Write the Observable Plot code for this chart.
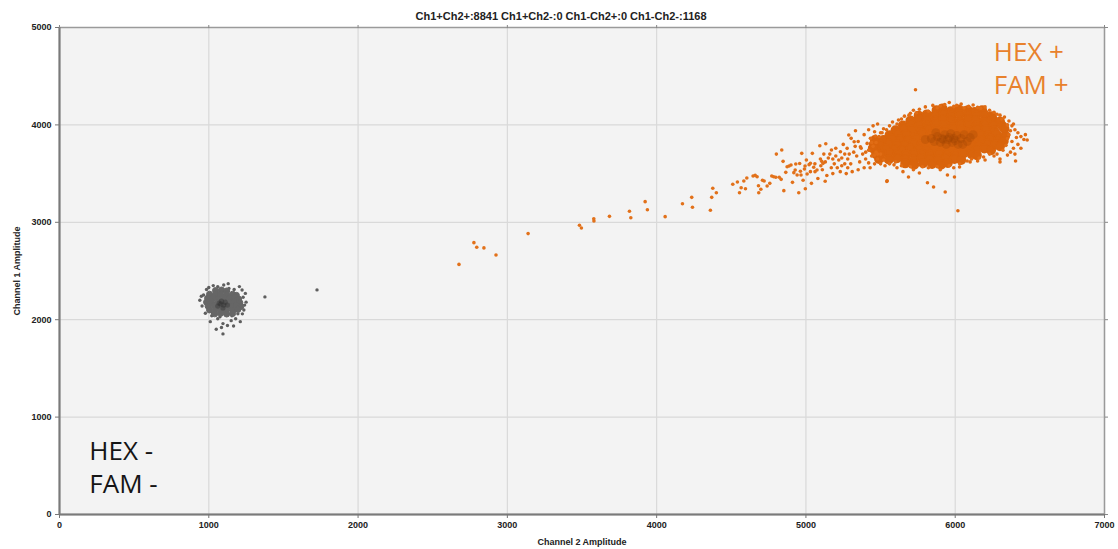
<!DOCTYPE html>
<html><head><meta charset="utf-8">
<script src="https://cdn.jsdelivr.net/npm/d3@7"></script>
<script src="https://cdn.jsdelivr.net/npm/@observablehq/plot@0.6"></script>
<style>body{margin:0;background:#fff} #chart svg{display:block}</style>
</head><body><div id="chart"></div>
<script>
const xTicks = [0,1000,2000,3000,4000,5000,6000,7000];
const yTicks = [0,1000,2000,3000,4000,5000];
const clusterNames = ["Ch1+Ch2+","Ch1+Ch2-","Ch1-Ch2+","Ch1-Ch2-"];
const clusterCounts = [8841,0,0,1168];

// Negative (HEX- FAM-) droplets, [Channel 2, Channel 1]
const negHalo = [[940,2200],[955,2140],[965,2254],[977,2066],[1000,2330],[1020,2040],[1030,2350],[1060,2340],[1100,2357],[1135,2320],[1170,2310],[1223,2305],[1230,2230],[1240,2150],[1235,2100],[1225,2060],[1211,1980],[1180,2010],[1150,1990],[1166,1936],[1095,1960],[1060,2010],[1050,1902],[1010,1980],[1085,1920],[1095,1854],[1250,2180],[1205,2340],[1130,2370],[950,2240],[985,2310],[1195,2060],[1155,2040],[1075,2030],[1025,2070],[1245,2270],[1125,1940],[1376,2234],[1725,2306]];
const negCore = [[1045,2300],[1085,2305],[1120,2295],[1005,2262],[1045,2258],[1080,2265],[1120,2255],[1160,2262],[1185,2250],[992,2220],[1030,2225],[1065,2215],[1105,2222],[1140,2218],[1175,2225],[1200,2212],[985,2180],[1020,2185],[1060,2176],[1095,2183],[1135,2178],[1170,2186],[1208,2175],[995,2140],[1035,2145],[1070,2136],[1110,2143],[1150,2138],[1185,2146],[1215,2135],[1005,2100],[1045,2104],[1085,2096],[1120,2103],[1160,2098],[1195,2105],[1040,2060],[1080,2066],[1120,2058],[1160,2064]];
const negCenter = [[1070,2170],[1100,2150],[1085,2190],[1110,2180],[1060,2140],[1095,2120],[1125,2150],[1080,2160]];

// Positive (HEX+ FAM+) droplets, [Channel 2, Channel 1]
const posTail = [[2676,2568],[2776,2791],[2795,2744],[2843,2737],[2924,2665],[3139,2884],[3483,2969],[3496,2941],[3579,3037],[3580,3013],[3684,3061],[3818,3113],[3827,3047],[3923,3212],[3938,3129],[4057,3058],[4173,3191],[4235,3256],[4240,3154],[4360,3123],[4369,3256],[4376,3349],[4400,3304],[4510,3390],[4541,3414],[4555,3304],[4566,3355],[4584,3424],[4595,3345],[4604,3455],[4646,3475],[4660,3482],[4673,3468],[4682,3376],[4684,3304],[4698,3339],[4709,3431],[4720,3424],[4740,3372],[4758,3400],[4771,3475],[4784,3468],[4798,3462],[4802,3700],[4821,3462],[4834,3441],[4838,3742],[4847,3626],[4852,3325],[4865,3513],[4874,3571],[4887,3578],[4900,3588],[4910,3410],[4919,3510],[4928,3537],[4932,3599],[4941,3486],[4952,3304],[4958,3603],[4963,3524],[4967,3486],[4972,3708],[4981,3431],[4990,3547],[4994,3578],[5003,3640],[4996,3345],[5008,3496],[5021,3592],[5030,3605],[5043,3708],[5037,3400],[5052,3565],[5061,3520],[5074,3537],[5093,3786],[5133,3807],[5097,3650],[5106,3626],[5115,3605],[5129,3421]];
const posHalo = [[5432,3862],[5466,3885],[5410,3810],[5365,3776],[5332,3940],[5287,3896],[5303,3862],[5323,3827],[5276,3759],[5231,3724],[5171,3742],[5450,3780],[5470,3720],[5440,3680],[5420,3740],[5400,3650],[5380,3700],[5360,3620],[5340,3680],[5320,3720],[5300,3600],[5280,3650],[5260,3700],[5240,3580],[5220,3640],[5200,3680],[5190,3600],[5170,3560],[5150,3660],[5130,3620],[5110,3540],[5480,3650],[5500,3600],[5460,3600],[5430,3560],[5390,3560],[5350,3540],[5310,3520],[5270,3500],[5230,3520],[5490,3880],[5510,3920],[5520,3960],[5560,3990],[5580,4030],[5620,4050],[5530,3580],[5560,3600],[5600,3620],[5250,3800],[5200,3760],[5180,3500],[5140,3480],[5080,3450],[5060,3600],[5030,3520],[5350,3830],[5390,3900],[5420,3950],[5450,3990],[5480,4010],[5460,3930],[5280,3560],[5240,3660],[5210,3560],[5160,3700],[5120,3700],[5400,3720],[5440,3820],[5370,3760],[5330,3780],[5290,3700],[5260,3600],[5180,3650],[5100,3580],[5420,3610],[5460,3690],[5500,3700],
[5760,4160],[5800,4185],[5850,4200],[5880,4175],[5930,4210],[5990,4190],[6040,4215],[6090,4190],[6120,4205],[6170,4170],[6200,4185],[6230,4150],[6260,4130],[5700,4120],[5660,4090],[5720,4150],[5960,4230],[6060,4175],[6150,4180],[5734,4361],
[6330,4080],[6360,4040],[6380,3990],[6400,3950],[6420,3920],[6440,3880],[6460,3850],[6482,3845],[6420,3800],[6390,3760],[6370,3720],[6350,3690],[6400,3700],[6440,3760],[6470,3900],[6300,4100],[6350,3860],[6380,3830],[6300,3650],[6260,3680],[6230,3700],[6200,3640],[6160,3660],[6110,3650],[6404,3630],[6300,3620],[6390,4010],
[6080,3630],[6030,3600],[5990,3560],[6029,3567],[5948,3485],[5995,3465],[5760,3506],[5687,3465],[5544,3427],[5814,3406],[5855,3362],[5933,3311],[6018,3119],[5880,3570],[5820,3560],[5900,3540],[5960,3580],[5610,3560],[5650,3520],[5720,3540],[5780,3570],[6150,3630],[5542,3420],
[5610,4010],[5640,4060],[5690,4100],[5740,4125],[5820,4140],[5900,4195],[6010,4200],[6280,4110],[6310,4060],[6350,4000],[6370,3940],[6360,3900],[6410,3870],[6340,3790],[6320,3740],[6280,3700],[6190,3670],[6100,3620],[5700,3570],[5640,3580],[5590,3590],[5520,3640],[5480,3700],[5470,3820],[5500,3920],[5540,3950]];
const posCore = [[5875,4150],[5915,4168],[5970,4140],[6025,4158],[6085,4150],[6130,4132],[6180,4150],
[5755,4095],[5810,4108],[5865,4100],[5920,4112],[5975,4095],[6030,4108],[6085,4100],[6140,4095],[6195,4108],[6245,4090],
[5700,4045],[5755,4058],[5810,4050],[5865,4043],[5920,4058],[5975,4050],[6030,4043],[6085,4058],[6140,4050],[6195,4043],[6250,4058],[6300,4035],
[5650,3995],[5705,4008],[5760,4000],[5815,3993],[5870,4008],[5925,4000],[5980,3993],[6035,4008],[6090,4000],[6145,3993],[6200,4008],[6255,4000],[6315,3990],
[5600,3945],[5655,3958],[5710,3950],[5765,3943],[5820,3958],[5875,3950],[5930,3943],[5985,3958],[6040,3950],[6095,3943],[6150,3958],[6205,3950],[6260,3943],[6330,3960],
[5560,3895],[5615,3908],[5670,3900],[5725,3893],[5780,3908],[5835,3900],[5890,3893],[5945,3908],[6000,3900],[6055,3893],[6110,3908],[6165,3900],[6220,3893],[6275,3908],[6335,3890],
[5520,3845],[5575,3858],[5630,3850],[5685,3843],[5740,3858],[5795,3850],[5850,3843],[5905,3858],[5960,3850],[6015,3843],[6070,3858],[6125,3850],[6180,3843],[6235,3858],[6290,3850],[6325,3835],
[5500,3795],[5555,3808],[5610,3800],[5665,3793],[5720,3808],[5775,3800],[5830,3793],[5885,3808],[5940,3800],[5995,3793],[6050,3808],[6105,3800],[6160,3793],[6215,3808],[6270,3800],[6300,3782],
[5475,3745],[5535,3758],[5590,3750],[5645,3743],[5700,3758],[5755,3750],[5810,3743],[5865,3758],[5920,3750],[5975,3743],[6030,3758],[6085,3750],[6140,3743],[6195,3758],[6240,3740],
[5505,3695],[5560,3708],[5615,3700],[5670,3693],[5725,3708],[5780,3700],[5835,3693],[5890,3708],[5945,3700],[6000,3693],[6055,3708],[6110,3700],[6145,3688],
[5555,3645],[5610,3658],[5665,3650],[5720,3643],[5775,3658],[5830,3650],[5885,3643],[5940,3658],[5995,3650],[6040,3640],
[5665,3605],[5725,3592],[5785,3606],[5845,3598],[5905,3592],[5950,3608],
[5455,3800],[5462,3845],[5448,3760],[5470,3700],[5490,3650]];
const posCenter = [[5840,3860],[5880,3880],[5920,3850],[5960,3870],[6000,3840],[6040,3860],[6080,3830],[5900,3820],[5940,3800],[5980,3820],[6020,3800],[5930,3900],[5970,3910],[6010,3890],[6060,3900],[5860,3830],[6100,3870],[5950,3850],[5990,3860],[5910,3860],[5800,3850],[6120,3900],[5870,3920],[6050,3800]];

const titleText = clusterNames.map((n, i) => `${n}:${clusterCounts[i]}`).join(" ");
const X = d => d[0], Y = d => d[1];
const annot = {fontSize: 26, fontFamily: "'Open Sans', sans-serif", textAnchor: "start", lineAnchor: "middle"};

const chart = Plot.plot({
  width: 1118, height: 549,
  marginLeft: 59, marginRight: 14, marginTop: 27, marginBottom: 35,
  style: {fontFamily: "'Liberation Sans', Arial, sans-serif", background: "#fff"},
  x: {domain: [0, 7000]},
  y: {domain: [0, 5000]},
  marks: [
    Plot.frame({fill: "#f3f3f3", stroke: null}),
    Plot.gridX(xTicks, {stroke: "#d9d9d9", strokeOpacity: 1, strokeWidth: 1.2}),
    Plot.gridY(yTicks, {stroke: "#d9d9d9", strokeOpacity: 1, strokeWidth: 1.2}),
    Plot.dot(negHalo, {x: X, y: Y, r: 1.7, fill: "#5e5e5e"}),
    Plot.dot(negCore, {x: X, y: Y, r: 3, fill: "#666666", stroke: "#666666", strokeWidth: 1}),
    Plot.dot(negCenter, {x: X, y: Y, r: 2.6, fill: "#2a2a2a", fillOpacity: 0.35}),
    Plot.dot(posTail, {x: X, y: Y, r: 1.8, fill: "#e2711a"}),
    Plot.dot(posCore, {x: X, y: Y, r: 4.2, fill: "#d9640c", stroke: "#d9640c", strokeWidth: 1.6}),
    Plot.dot(posHalo, {x: X, y: Y, r: 1.8, fill: "#e06c14"}),
    Plot.dot(posCenter, {x: X, y: Y, r: 4.5, fill: "#8f3e00", fillOpacity: 0.2}),
    Plot.frame({stroke: "#9a9a9a", strokeWidth: 1.5}),
    Plot.ruleX([0], {stroke: "#7a7a7a", strokeWidth: 2}),
    Plot.ruleY([0], {stroke: "#7a7a7a", strokeWidth: 2}),
    Plot.axisX(xTicks, {anchor: "bottom", tickSize: 4, tickPadding: 3, fontSize: 9, fontWeight: "bold", stroke: "#777", fill: "#222",
      tickFormat: "d", label: "Channel 2 Amplitude", labelArrow: "none", labelAnchor: "center", labelOffset: 30}),
    Plot.axisY(yTicks, {anchor: "left", tickSize: 4, tickPadding: 4, fontSize: 9, fontWeight: "bold", stroke: "#777", fill: "#222",
      tickFormat: "d", label: "Channel 1 Amplitude", labelArrow: "none", labelAnchor: "center", labelOffset: 46}),
    Plot.axisX(xTicks, {anchor: "top", tickSize: 3, stroke: "#888", tickFormat: () => "", label: null}),
    Plot.axisY(yTicks, {anchor: "right", tickSize: 3, stroke: "#888", tickFormat: () => "", label: null}),
    Plot.text([titleText], {text: d => d, frameAnchor: "top", dy: -15, dx: -21, fontSize: 11, fontWeight: "bold", fill: "#222"}),
    Plot.text(["HEX +"], {text: d => d, x: 6258, y: 4745, fill: "#e8812c", ...annot}),
    Plot.text(["FAM +"], {text: d => d, x: 6258, y: 4405, fill: "#e8812c", ...annot}),
    Plot.text(["HEX -"], {text: d => d, x: 200, y: 643, fill: "#151515", ...annot}),
    Plot.text(["FAM -"], {text: d => d, x: 200, y: 303, fill: "#151515", ...annot})
  ]
});
document.getElementById("chart").append(chart);
</script>
</body></html>
